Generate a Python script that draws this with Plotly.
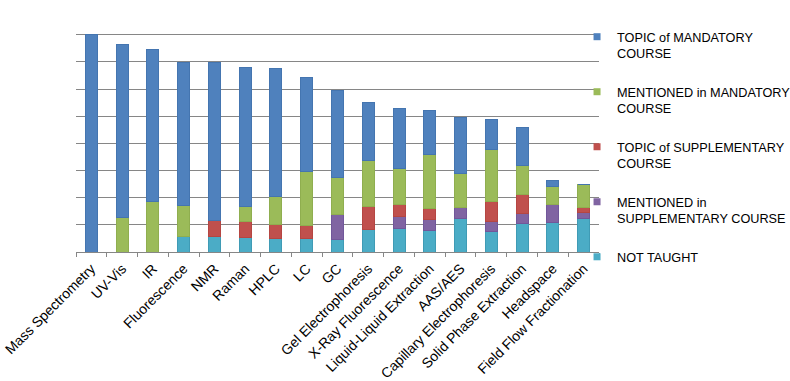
import plotly.graph_objects as go

categories = ["Mass Spectrometry", "UV-Vis", "IR", "Fluorescence", "NMR", "Raman", "HPLC", "LC", "GC",
              "Gel Electrophoresis", "X-Ray Fluorescence", "Liquid-Liquid Extraction", "AAS/AES",
              "Capillary Electrophoresis", "Solid Phase Extraction", "Headspace", "Field Flow Fractionation"]

not_taught = [0, 0, 0, 5.6, 5.6, 5.4, 5.1, 4.8, 4.5, 8.3, 8.7, 7.9, 12.3, 7.4, 10.4, 11.0, 12.3]
mentioned_supp = [0, 0, 0, 0, 0, 0, 0, 0, 9.2, 0, 4.4, 3.9, 4.1, 3.8, 3.6, 6.6, 2.1]
topic_supp = [0, 0, 0, 0, 5.9, 5.7, 5.2, 5.0, 0, 8.5, 4.5, 4.1, 0, 7.5, 7.0, 0, 2.1]
mentioned_mand = [0, 12.6, 18.6, 11.7, 0, 5.7, 10.2, 19.7, 13.8, 17.0, 13.3, 20.1, 12.5, 18.9, 10.7, 6.7, 8.3]
topic_mand = [80.0, 63.7, 56.0, 52.4, 58.2, 51.1, 46.9, 34.7, 32.1, 21.3, 22.1, 16.1, 20.8, 11.2, 14.1, 2.2, 0]

series_names = ["NOT TAUGHT", "MENTIONED in<br>SUPPLEMENTARY COURSE", "TOPIC of SUPPLEMENTARY<br>COURSE",
                "MENTIONED in MANDATORY<br>COURSE", "TOPIC of MANDATORY<br>COURSE"]
series_values = [not_taught, mentioned_supp, topic_supp, mentioned_mand, topic_mand]
colors = ["#4BACC6", "#8064A2", "#C0504D", "#9BBB59", "#4F81BD"]
edges = ["#3F9BB5", "#71579A", "#B54642", "#8FAE4F", "#4475B0"]

fig = go.Figure()
for name, vals, c, e in zip(series_names, series_values, colors, edges):
    fig.add_trace(go.Bar(x=categories, y=vals, name=name, marker=dict(color=c, line=dict(color=e, width=1)),
                         showlegend=False))
# legend entries, listed top to bottom
for i, (name, c) in enumerate(zip(series_names[::-1], colors[::-1])):
    fig.add_trace(go.Scatter(x=[None], y=[None], mode="markers", name=name, legendgroup=f"g{i}",
                             marker=dict(symbol="square", size=7, color=c), showlegend=True))

fig.update_layout(
    width=790, height=381,
    margin=dict(l=76, r=191, t=7, b=129, autoexpand=False),
    barmode="stack", bargap=0.61,
    plot_bgcolor="white", paper_bgcolor="white",
    font=dict(family="Liberation Sans, Arial, sans-serif", size=14, color="#000000"),
    legend=dict(x=0.958, xanchor="left", y=0.939, yanchor="top", traceorder="grouped",
                font=dict(size=12.7), valign="top", tracegroupgap=19, itemwidth=30,
                bgcolor="rgba(0,0,0,0)"),
    xaxis=dict(tickangle=-45, showgrid=False, showline=True, linecolor="#868686", linewidth=1,
               ticks="outside", ticklen=4, tickcolor="#868686", tickson="boundaries", automargin=False,
               ticklabelstandoff=2),
    yaxis=dict(range=[0, 90.2], tickvals=[10, 20, 30, 40, 50, 60, 70, 80, 90], showticklabels=False,
               showgrid=True, gridcolor="#868686", gridwidth=1, zeroline=False, showline=False, ticks="",
               automargin=False),
)

fig.write_html("out.html", config={"displayModeBar": False},
               post_script="document.body.style.margin='0';")
